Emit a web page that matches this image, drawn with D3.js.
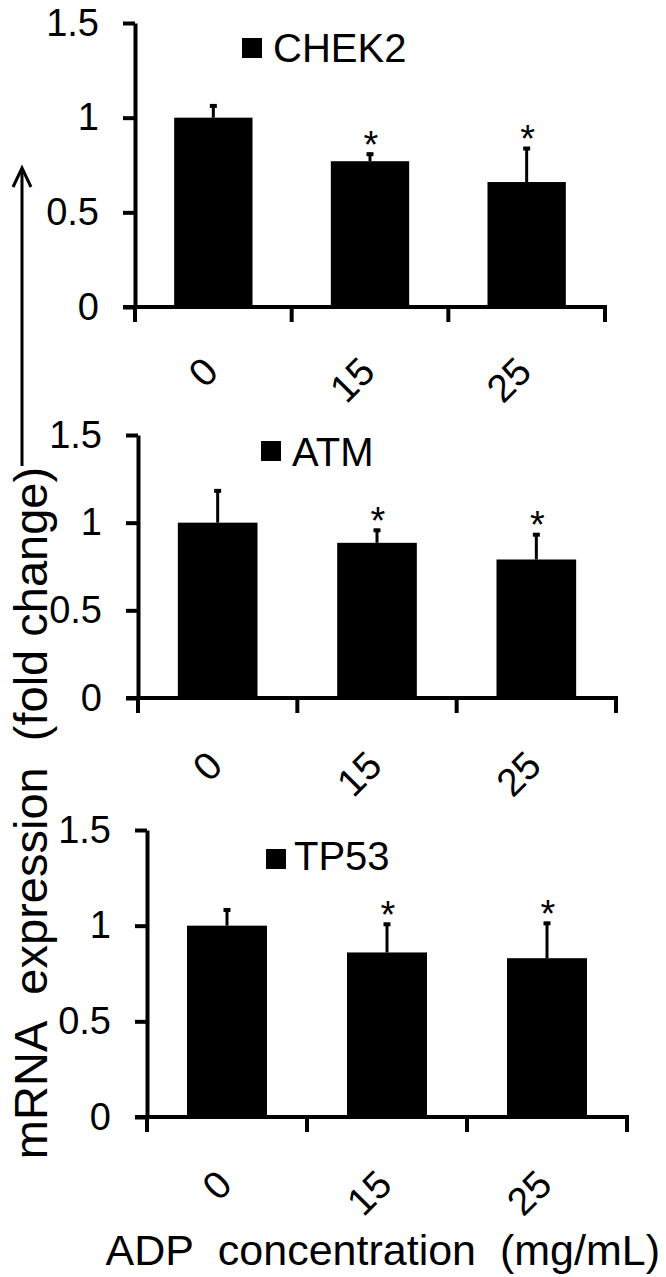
<!DOCTYPE html>
<html>
<head>
<meta charset="utf-8">
<script src="https://cdn.jsdelivr.net/npm/d3@7"></script>
<style>
  body { margin: 0; background: #fff; }
  svg { display: block; font-family: Arial, "Liberation Sans", sans-serif; }
  text { white-space: pre; }
</style>
</head>
<body>
<svg width="666" height="1277"></svg>
<script>
// data
const doses = ['0', '15', '25'];
const genes = ['CHEK2', 'ATM', 'TP53'];
const chek2Mean = [1.0, 0.77, 0.66];
const chek2Err = [0.07, 0.045, 0.185];
const atmMean = [1.0, 0.885, 0.79];
const atmErr = [0.19, 0.08, 0.15];
const tp53Mean = [1.0, 0.86, 0.83];
const tp53Err = [0.09, 0.155, 0.19];
const signif = ['', '*', '*'];
const yTicks = [0, 0.5, 1, 1.5];
const yLabel = 'mRNA\u00a0 expression\u00a0 (fold change)';
const xLabel = 'ADP\u00a0 concentration\u00a0 (mg/mL)';

initPanels();

function initPanels() {
    const svg = d3.select('svg');
    const means = [chek2Mean, atmMean, tp53Mean];
    const errs = [chek2Err, atmErr, tp53Err];

    // placement of each panel on the page
    const layout = [
        { x0: 135, x1: 605, yTop: 23, yBot: 307, lx: 242, ly: 38, tx: 273, ty: 62, lab: 67 },
        { x0: 138, x1: 616, yTop: 435, yBot: 698, lx: 261, ly: 441, tx: 292, ty: 466, lab: 70 },
        { x0: 147, x1: 627, yTop: 830, yBot: 1117, lx: 266, ly: 849, tx: 294, ty: 870, lab: 70 }
    ];

    genes.forEach(function (gene, gi) {
        const L = layout[gi];
        const rows = doses.map((d, i) => ({ dose: d, mean: means[gi][i], err: errs[gi][i], sig: signif[i] }));

        const x = d3.scaleBand()
            .domain(doses)
            .range([L.x0, L.x1])
            .paddingInner(0.5)
            .paddingOuter(0.25);
        const y = d3.scaleLinear()
            .domain([0, 1.5])
            .range([L.yBot, L.yTop]);

        const g = svg.append('g').attr('class', 'panel');

        // bars
        g.selectAll('.bar')
            .data(rows)
            .enter()
            .append('rect')
            .attr('class', 'bar')
            .attr('x', (d) => x(d.dose))
            .attr('y', (d) => y(d.mean))
            .attr('width', x.bandwidth())
            .attr('height', (d) => y(0) - y(d.mean))
            .attr('fill', '#000');

        // error bars (upper half only)
        const eb = g.selectAll('.err')
            .data(rows)
            .enter()
            .append('g')
            .attr('class', 'err');
        eb.append('line')
            .attr('x1', (d) => x(d.dose) + x.bandwidth() / 2)
            .attr('x2', (d) => x(d.dose) + x.bandwidth() / 2)
            .attr('y1', (d) => y(d.mean))
            .attr('y2', (d) => y(d.mean + d.err))
            .attr('stroke', '#000')
            .attr('stroke-width', 3);
        eb.append('line')
            .attr('x1', (d) => x(d.dose) + x.bandwidth() / 2 - 3.5)
            .attr('x2', (d) => x(d.dose) + x.bandwidth() / 2 + 3.5)
            .attr('y1', (d) => y(d.mean + d.err) + 1.5)
            .attr('y2', (d) => y(d.mean + d.err) + 1.5)
            .attr('stroke', '#000')
            .attr('stroke-width', 4);

        // significance stars
        g.selectAll('.star')
            .data(rows.filter((d) => d.sig))
            .enter()
            .append('text')
            .attr('x', (d) => x(d.dose) + x.bandwidth() / 2 + 1)
            .attr('y', (d) => y(d.mean + d.err) + 5)
            .attr('text-anchor', 'middle')
            .attr('font-size', 38)
            .text((d) => d.sig);

        // y axis
        const yAxis = g.append('g')
            .attr('transform', 'translate(' + L.x0 + ',0)')
            .call(d3.axisLeft(y)
                .tickValues(yTicks)
                .tickSizeInner(12)
                .tickSizeOuter(0)
                .tickPadding(24)
                .tickFormat((d) => String(d)));
        yAxis.selectAll('path, line').attr('stroke', '#000').attr('stroke-width', 4);
        yAxis.selectAll('text')
            .attr('font-size', 38)
            .attr('font-family', 'Arial, "Liberation Sans", sans-serif')
            .attr('fill', '#000');

        // x axis: baseline plus ticks at category boundaries
        const step = x.step();
        const edges = d3.range(doses.length + 1).map((i) => L.x0 + i * step);
        g.append('line')
            .attr('x1', L.x0 - 12)
            .attr('x2', L.x1 + 2)
            .attr('y1', y(0))
            .attr('y2', y(0))
            .attr('stroke', '#000')
            .attr('stroke-width', 4);
        g.selectAll('.xtick')
            .data(edges)
            .enter()
            .append('line')
            .attr('x1', (d) => d)
            .attr('x2', (d) => d)
            .attr('y1', y(0))
            .attr('y2', y(0) + 15)
            .attr('stroke', '#000')
            .attr('stroke-width', 4);

        // rotated dose labels
        g.selectAll('.xlab')
            .data(doses)
            .enter()
            .append('text')
            .attr('text-anchor', 'end')
            .attr('font-size', 39)
            .attr('transform', (d) => 'translate(' + (x(d) + x.bandwidth() / 2 + 7) + ',' + (y(0) + L.lab) + ') rotate(-45)')
            .text((d) => d);

        // legend
        g.append('rect')
            .attr('x', L.lx)
            .attr('y', L.ly)
            .attr('width', 20)
            .attr('height', 20)
            .attr('fill', '#000');
        g.append('text')
            .attr('x', L.tx)
            .attr('y', L.ty)
            .attr('font-size', 40)
            .text(gene);
    });

    // shared y title with arrow
    svg.append('text')
        .attr('transform', 'translate(47,813) rotate(-90)')
        .attr('text-anchor', 'middle')
        .attr('font-size', 47)
        .text(yLabel);
    svg.append('line')
        .attr('x1', 22).attr('x2', 22)
        .attr('y1', 466).attr('y2', 169)
        .attr('stroke', '#000')
        .attr('stroke-width', 3);
    svg.append('path')
        .attr('d', 'M13,187 L22,168 L31,187')
        .attr('fill', 'none')
        .attr('stroke', '#000')
        .attr('stroke-width', 3);

    // x title
    svg.append('text')
        .attr('x', 660)
        .attr('y', 1265)
        .attr('text-anchor', 'end')
        .attr('font-size', 43)
        .text(xLabel);
}
</script>
</body>
</html>
